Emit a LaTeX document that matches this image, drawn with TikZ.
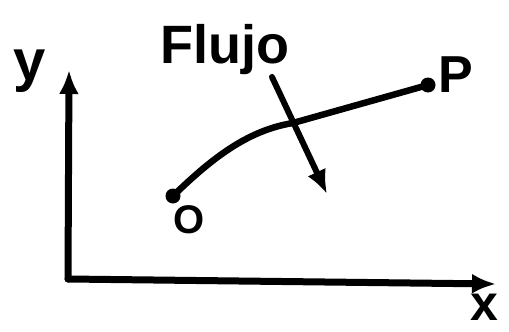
\documentclass[tikz,border=0pt]{standalone}
\usepackage{fontspec}
\setmainfont{Liberation Sans}
\usetikzlibrary{arrows.meta}
\begin{document}
\begin{tikzpicture}[x=1pt,y=-1pt,
  stroke/.style={line width=7pt,line cap=round,line join=round},
  tip/.style={-{Latex[length=24pt,width=20pt]}},
  dot/.style={circle,fill=black,inner sep=0pt,minimum size=15pt},
  lbl/.style={anchor=base,inner sep=0pt,font=\bfseries}]
\useasboundingbox (0,0) rectangle (509,332);
% axes
\coordinate (orig) at (68,279);
\coordinate (ytop) at (69,70);
\coordinate (xend) at (496,284);
\draw[stroke,tip] (orig) -- (ytop);
\draw[stroke,tip] (orig) -- (xend);
\node[lbl,font=\bfseries\fontsize{58}{58}\selectfont] (ylab) at (30,80) {y};
\node[lbl,font=\bfseries\fontsize{50}{50}\selectfont] (xlab) at (484,320) {x};
% path O -> P
\node[dot] (O) at (173,196) {};
\node[dot] (P) at (428,85) {};
\draw[stroke,line width=6.5pt] (O.center) .. controls (215,155) and (250,130) .. (293,123) -- (P.center);
\node[lbl,font=\bfseries\fontsize{40}{40}\selectfont] (Olab) at (189,233) {O};
\node[lbl,font=\bfseries\fontsize{52}{52}\selectfont] (Plab) at (456,92) {P};
% flow
\node[lbl,font=\bfseries\fontsize{54}{54}\selectfont] (flujo) at (225,63) {Flujo};
\coordinate (fstart) at (272,77);
\coordinate (fend) at (327,194);
\draw[stroke,line width=6pt,tip] (fstart) -- (fend);
\end{tikzpicture}
\end{document}
